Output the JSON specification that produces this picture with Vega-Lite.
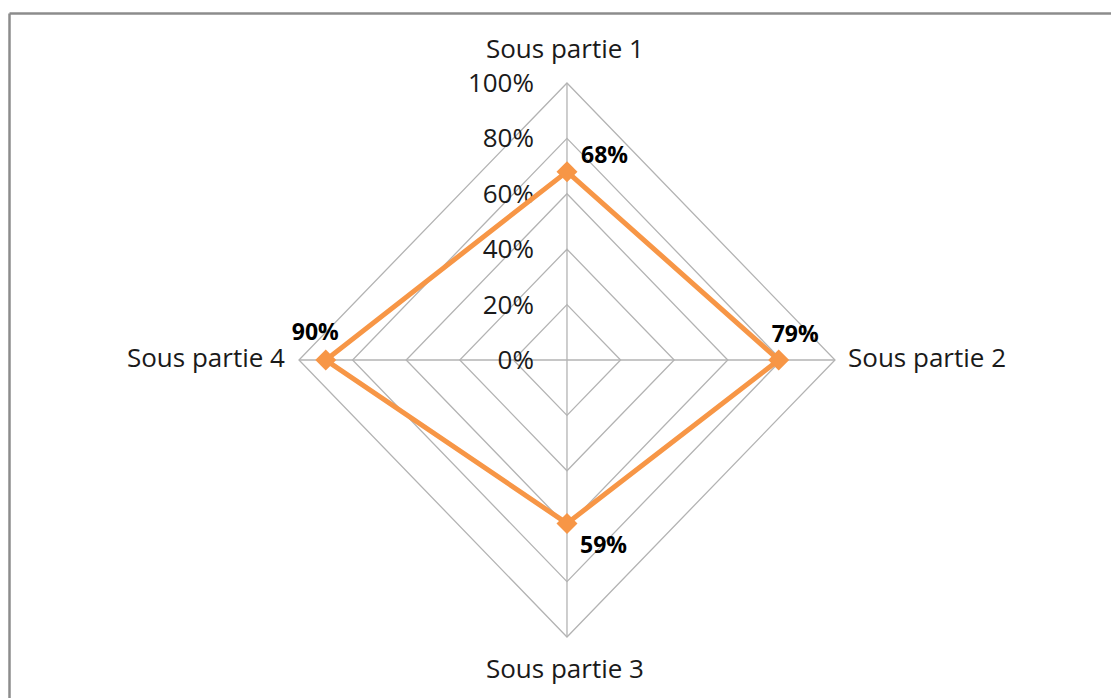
{
  "$schema": "https://vega.github.io/schema/vega-lite/v6.json",
  "autosize": "none",
  "width": 1102,
  "height": 685,
  "padding": {"left": 9, "top": 13, "right": 0, "bottom": 0},
  "background": "white",
  "config": {
    "view": {"stroke": null},
    "text": {"font": "Open Sans", "fontSize": 26, "color": "#1a1a1a"}
  },
  "datasets": {
    "series": [
      {"axis": "Sous partie 1", "i": 0, "value": 0.68},
      {"axis": "Sous partie 2", "i": 1, "value": 0.79},
      {"axis": "Sous partie 3", "i": 2, "value": 0.59},
      {"axis": "Sous partie 4", "i": 3, "value": 0.90}
    ],
    "grid": [
      {"level": 0.2, "i": 0}, {"level": 0.2, "i": 1}, {"level": 0.2, "i": 2}, {"level": 0.2, "i": 3},
      {"level": 0.4, "i": 0}, {"level": 0.4, "i": 1}, {"level": 0.4, "i": 2}, {"level": 0.4, "i": 3},
      {"level": 0.6, "i": 0}, {"level": 0.6, "i": 1}, {"level": 0.6, "i": 2}, {"level": 0.6, "i": 3},
      {"level": 0.8, "i": 0}, {"level": 0.8, "i": 1}, {"level": 0.8, "i": 2}, {"level": 0.8, "i": 3},
      {"level": 1.0, "i": 0}, {"level": 1.0, "i": 1}, {"level": 1.0, "i": 2}, {"level": 1.0, "i": 3}
    ],
    "ticks": [
      {"level": 0.0, "label": "0%"},
      {"level": 0.2, "label": "20%"},
      {"level": 0.4, "label": "40%"},
      {"level": 0.6, "label": "60%"},
      {"level": 0.8, "label": "80%"},
      {"level": 1.0, "label": "100%"}
    ]
  },
  "layer": [
    {
      "data": {"name": "grid"},
      "transform": [
        {"calculate": "datum.level * sin(datum.i * PI / 2)", "as": "px"},
        {"calculate": "datum.level * cos(datum.i * PI / 2)", "as": "py"}
      ],
      "mark": {"type": "line", "interpolate": "linear-closed", "color": "#b3b3b3", "strokeWidth": 1.3},
      "encoding": {
        "x": {
          "field": "px", "type": "quantitative",
          "scale": {"domain": [-2.082, 2.0299], "nice": false, "zero": false},
          "axis": {"orient": "top", "domain": true, "domainColor": "#8c8c8c", "domainWidth": 2.5, "ticks": false, "labels": false, "grid": false, "title": null}
        },
        "y": {
          "field": "py", "type": "quantitative",
          "scale": {"domain": [-1.2202, 1.2527], "nice": false, "zero": false},
          "axis": {"orient": "left", "domain": true, "domainColor": "#8c8c8c", "domainWidth": 2.5, "ticks": false, "labels": false, "grid": false, "title": null}
        },
        "detail": {"field": "level"},
        "order": {"field": "i"}
      }
    },
    {
      "data": {"name": "grid"},
      "transform": [
        {"filter": "datum.level == 1"},
        {"calculate": "datum.level * sin(datum.i * PI / 2)", "as": "px"},
        {"calculate": "datum.level * cos(datum.i * PI / 2)", "as": "py"}
      ],
      "mark": {"type": "rule", "color": "#b3b3b3", "strokeWidth": 1.3},
      "encoding": {
        "x": {"field": "px", "type": "quantitative"},
        "y": {"field": "py", "type": "quantitative"},
        "x2": {"datum": 0},
        "y2": {"datum": 0}
      }
    },
    {
      "data": {"name": "ticks"},
      "mark": {"type": "text", "align": "right", "baseline": "alphabetic", "dx": -33, "dy": 9},
      "encoding": {
        "x": {"datum": 0, "type": "quantitative"},
        "y": {"field": "level", "type": "quantitative"},
        "text": {"field": "label"}
      }
    },
    {
      "data": {"name": "series"},
      "transform": [
        {"calculate": "datum.value * sin(datum.i * PI / 2)", "as": "px"},
        {"calculate": "datum.value * cos(datum.i * PI / 2)", "as": "py"}
      ],
      "mark": {"type": "line", "interpolate": "linear-closed", "color": "#f79646", "strokeWidth": 5},
      "encoding": {
        "x": {"field": "px", "type": "quantitative"},
        "y": {"field": "py", "type": "quantitative"},
        "order": {"field": "i"}
      }
    },
    {
      "data": {"name": "series"},
      "transform": [
        {"calculate": "datum.value * sin(datum.i * PI / 2)", "as": "px"},
        {"calculate": "datum.value * cos(datum.i * PI / 2)", "as": "py"}
      ],
      "mark": {"type": "point", "shape": "diamond", "filled": true, "color": "#f79646", "opacity": 1, "size": 440},
      "encoding": {
        "x": {"field": "px", "type": "quantitative"},
        "y": {"field": "py", "type": "quantitative"}
      }
    },
    {
      "data": {"name": "series"},
      "transform": [
        {"filter": "datum.i == 0"},
        {"calculate": "datum.value * sin(datum.i * PI / 2)", "as": "px"},
        {"calculate": "datum.value * cos(datum.i * PI / 2)", "as": "py"}
      ],
      "mark": {"type": "text", "fontWeight": "bold", "fontSize": 23, "color": "#000000", "align": "left", "baseline": "alphabetic", "dx": 14, "dy": -9},
      "encoding": {
        "x": {"field": "px", "type": "quantitative"},
        "y": {"field": "py", "type": "quantitative"},
        "text": {"field": "value", "type": "quantitative", "format": ".0%"}
      }
    },
    {
      "data": {"name": "series"},
      "transform": [
        {"filter": "datum.i == 1"},
        {"calculate": "datum.value * sin(datum.i * PI / 2)", "as": "px"},
        {"calculate": "datum.value * cos(datum.i * PI / 2)", "as": "py"}
      ],
      "mark": {"type": "text", "fontWeight": "bold", "fontSize": 23, "color": "#000000", "align": "left", "baseline": "alphabetic", "dx": -7, "dy": -18},
      "encoding": {
        "x": {"field": "px", "type": "quantitative"},
        "y": {"field": "py", "type": "quantitative"},
        "text": {"field": "value", "type": "quantitative", "format": ".0%"}
      }
    },
    {
      "data": {"name": "series"},
      "transform": [
        {"filter": "datum.i == 2"},
        {"calculate": "datum.value * sin(datum.i * PI / 2)", "as": "px"},
        {"calculate": "datum.value * cos(datum.i * PI / 2)", "as": "py"}
      ],
      "mark": {"type": "text", "fontWeight": "bold", "fontSize": 23, "color": "#000000", "align": "left", "baseline": "alphabetic", "dx": 13, "dy": 30},
      "encoding": {
        "x": {"field": "px", "type": "quantitative"},
        "y": {"field": "py", "type": "quantitative"},
        "text": {"field": "value", "type": "quantitative", "format": ".0%"}
      }
    },
    {
      "data": {"name": "series"},
      "transform": [
        {"filter": "datum.i == 3"},
        {"calculate": "datum.value * sin(datum.i * PI / 2)", "as": "px"},
        {"calculate": "datum.value * cos(datum.i * PI / 2)", "as": "py"}
      ],
      "mark": {"type": "text", "fontWeight": "bold", "fontSize": 23, "color": "#000000", "align": "left", "baseline": "alphabetic", "dx": -34, "dy": -20},
      "encoding": {
        "x": {"field": "px", "type": "quantitative"},
        "y": {"field": "py", "type": "quantitative"},
        "text": {"field": "value", "type": "quantitative", "format": ".0%"}
      }
    },
    {
      "data": {"name": "series"},
      "transform": [{"filter": "datum.i == 0"}],
      "mark": {"type": "text", "align": "center", "baseline": "alphabetic", "dx": -2, "dy": -25},
      "encoding": {
        "x": {"datum": 0, "type": "quantitative"},
        "y": {"datum": 1, "type": "quantitative"},
        "text": {"field": "axis"}
      }
    },
    {
      "data": {"name": "series"},
      "transform": [{"filter": "datum.i == 1"}],
      "mark": {"type": "text", "align": "left", "baseline": "alphabetic", "dx": 13, "dy": 7},
      "encoding": {
        "x": {"datum": 1, "type": "quantitative"},
        "y": {"datum": 0, "type": "quantitative"},
        "text": {"field": "axis"}
      }
    },
    {
      "data": {"name": "series"},
      "transform": [{"filter": "datum.i == 2"}],
      "mark": {"type": "text", "align": "center", "baseline": "alphabetic", "dx": -2, "dy": 41},
      "encoding": {
        "x": {"datum": 0, "type": "quantitative"},
        "y": {"datum": -1, "type": "quantitative"},
        "text": {"field": "axis"}
      }
    },
    {
      "data": {"name": "series"},
      "transform": [{"filter": "datum.i == 3"}],
      "mark": {"type": "text", "align": "right", "baseline": "alphabetic", "dx": -14, "dy": 7},
      "encoding": {
        "x": {"datum": -1, "type": "quantitative"},
        "y": {"datum": 0, "type": "quantitative"},
        "text": {"field": "axis"}
      }
    }
  ]
}
